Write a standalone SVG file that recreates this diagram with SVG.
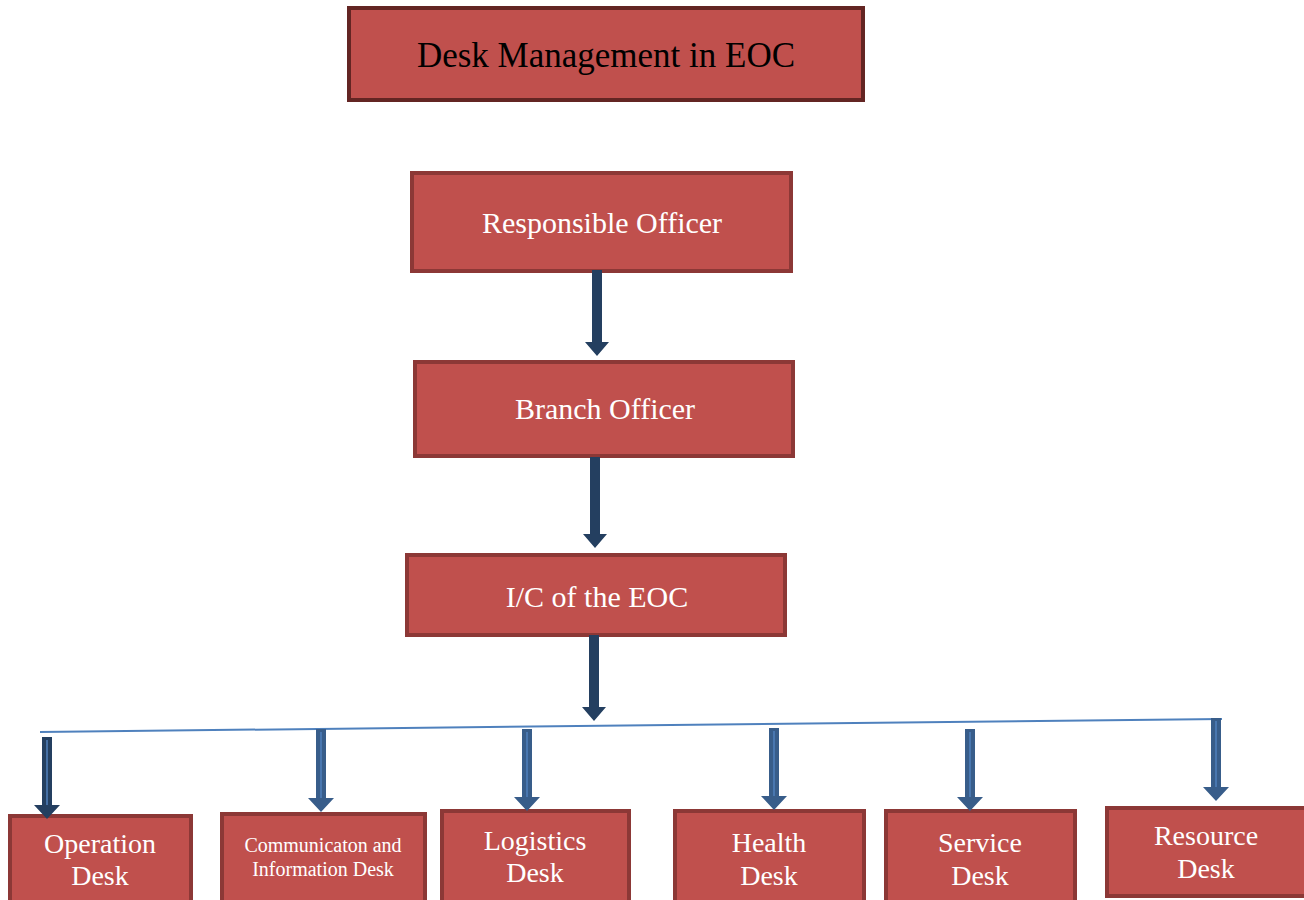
<svg xmlns="http://www.w3.org/2000/svg" width="1304" height="900" viewBox="0 0 1304 900">
<style>
.box{fill:#C0504D;stroke:#8C3836;stroke-width:4}
.title{fill:#C0504D;stroke:#632523;stroke-width:4}
.t{font-family:"Liberation Serif","Times New Roman",serif;fill:#ffffff;text-anchor:middle}
.dark{fill:#243F60}
.blue{fill:#385D8A}
.hl{stroke:#4F81BD;stroke-width:1.5}
</style>
<rect width="1304" height="900" fill="#ffffff"/>
<g id="title">
<rect class="title" x="349" y="8" width="514" height="92"/>
<text class="t" x="606" y="67" font-size="35" style="fill:#000">Desk Management in EOC</text>
</g>
<g id="responsible">
<rect class="box" x="412" y="173" width="379" height="98"/>
<text class="t" x="602" y="233" font-size="30">Responsible Officer</text>
</g>
<g id="branch">
<rect class="box" x="415" y="362" width="378" height="94"/>
<text class="t" x="605" y="419" font-size="30">Branch Officer</text>
</g>
<g id="ic">
<rect class="box" x="407" y="555" width="378" height="80"/>
<text class="t" x="597" y="607" font-size="30">I/C of the EOC</text>
</g>
<g id="operation">
<rect class="box" x="10" y="816" width="181" height="90"/>
<text class="t" x="100" y="853" font-size="28">Operation</text>
<text class="t" x="100" y="885" font-size="28">Desk</text>
</g>
<g id="communication">
<rect class="box" x="222" y="814" width="203" height="92"/>
<text class="t" x="323" y="852" font-size="20">Communicaton and</text>
<text class="t" x="323" y="876" font-size="20">Information Desk</text>
</g>
<g id="logistics">
<rect class="box" x="442" y="811" width="187" height="95"/>
<text class="t" x="535" y="850" font-size="28">Logistics</text>
<text class="t" x="535" y="882" font-size="28">Desk</text>
</g>
<g id="health">
<rect class="box" x="675" y="811" width="189" height="95"/>
<text class="t" x="769" y="852" font-size="28">Health</text>
<text class="t" x="769" y="885" font-size="28">Desk</text>
</g>
<g id="service">
<rect class="box" x="886" y="811" width="189" height="95"/>
<text class="t" x="980" y="852" font-size="28">Service</text>
<text class="t" x="980" y="885" font-size="28">Desk</text>
</g>
<g id="resource">
<rect class="box" x="1107" y="808" width="199" height="88"/>
<text class="t" x="1206" y="845" font-size="28">Resource</text>
<text class="t" x="1206" y="878" font-size="28">Desk</text>
</g>
<g id="connectors">
<polygon class="dark" points="592,270 602,270 602,342 609,342 597,356 585,342 592,342"/>
<polygon class="dark" points="590,457 600,457 600,534 607,534 595,548 583,534 590,534"/>
<polygon class="dark" points="589,635 599,635 599,707 606,707 594,721 582,707 589,707"/>
<line x1="40" y1="732" x2="1222" y2="719" stroke="#4F81BD" stroke-width="2"/>
<polygon class="dark" points="42,737 52,737 52,805 60,805 47,819 34,805 42,805"/>
<line class="hl" x1="47" y1="740" x2="47" y2="805"/>
<polygon class="blue" points="316,729 326,729 326,798 334,798 321,812 308,798 316,798"/>
<line class="hl" x1="321" y1="732" x2="321" y2="798"/>
<polygon class="blue" points="522,729 532,729 532,797 540,797 527,811 514,797 522,797"/>
<line class="hl" x1="527" y1="732" x2="527" y2="797"/>
<polygon class="blue" points="769,728 779,728 779,796 787,796 774,810 761,796 769,796"/>
<line class="hl" x1="774" y1="731" x2="774" y2="796"/>
<polygon class="blue" points="965,729 975,729 975,797 983,797 970,811 957,797 965,797"/>
<line class="hl" x1="970" y1="732" x2="970" y2="797"/>
<polygon class="blue" points="1211,718 1221,718 1221,787 1229,787 1216,801 1203,787 1211,787"/>
<line class="hl" x1="1216" y1="721" x2="1216" y2="787"/>
</g>
</svg>
